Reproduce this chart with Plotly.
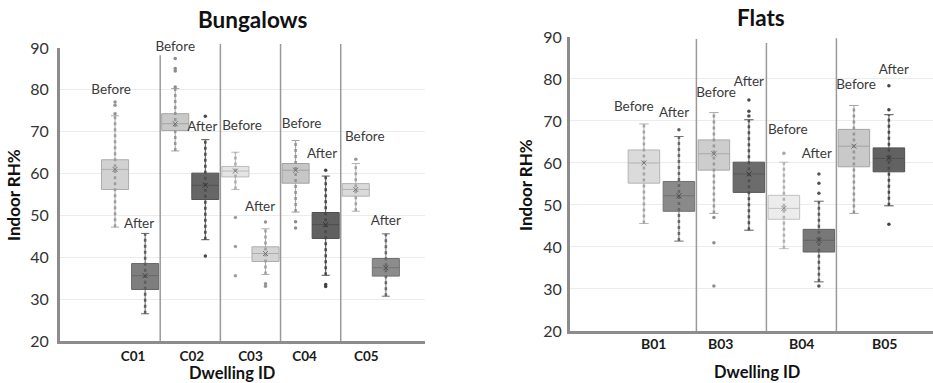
import plotly.graph_objects as go

# ---------------- DATA ----------------
# Bungalows (left panel): boxes ordered C01 Before, C01 After, C02 Before, ...
bung_ids = ["C01", "C02", "C03", "C04", "C05"]
bung_q1 = [56.2, 32.3, 70.3, 53.8, 59.2, 39.0, 57.7, 44.5, 54.6, 35.5]
bung_med = [61.0, 35.6, 71.9, 57.2, 60.6, 40.9, 60.8, 47.8, 56.2, 37.5]
bung_q3 = [63.3, 38.5, 74.3, 60.1, 61.7, 42.5, 62.4, 50.7, 57.6, 39.7]
bung_lo = [47.2, 26.5, 65.4, 44.2, 56.2, 35.9, 50.8, 35.7, 51.0, 30.7]
bung_hi = [73.8, 45.7, 80.3, 68.1, 65.1, 46.8, 67.9, 59.4, 62.4, 45.6]
bung_out = [[77.1, 76.3, 74.3], [], [87.5, 85.1, 84.5, 80.7], [73.7, 40.3],
            [49.5, 42.6, 35.6], [48.4, 33.7, 33.1], [48.5, 47.0], [60.8, 33.5, 33.0],
            [63.4], []]
bung_fill = ["#d2d2d2", "#7e7e7e", "#c9c9c9", "#666666", "#e4e4e4",
             "#d4d4d4", "#c6c6c6", "#616161", "#dadada", "#8c8c8c"]
bung_label_y = [79.9, 47.9, 90.0, 70.9, 71.1, 51.9, 71.6, 64.5, 68.6, 48.5]
bung_label_dx = [-0.13, -0.2, 0.0, -0.1, 0.22, -0.18, 0.2, -0.12, 0.3, 0.0]

# Flats (right panel)
flat_ids = ["B01", "B03", "B04", "B05"]
flat_q1 = [55.2, 48.5, 58.3, 53.0, 46.6, 38.8, 59.1, 57.9]
flat_med = [60.0, 52.2, 62.2, 57.4, 49.2, 41.6, 64.0, 61.1]
flat_q3 = [63.1, 55.6, 65.5, 60.2, 52.3, 44.2, 68.0, 63.6]
flat_lo = [45.6, 41.4, 48.0, 44.0, 39.6, 31.7, 48.0, 49.8]
flat_hi = [69.3, 66.3, 72.0, 70.3, 60.2, 50.9, 73.7, 71.5]
flat_out = [[], [67.9], [47.0, 41.0, 30.7], [75.0, 72.3, 71.2],
            [62.3], [57.4, 55.2, 52.8, 30.7], [], [78.4, 72.7, 45.4]]
flat_fill = ["#dbdbdb", "#8a8a8a", "#cdcdcd", "#6c6c6c",
             "#ececec", "#787878", "#c9c9c9", "#626262"]
flat_label_y = [73.2, 71.7, 76.5, 79.1, 67.6, 61.9, 78.5, 82.0]
flat_label_dx = [-0.29, -0.14, 0.06, 0.0, 0.11, -0.06, 0.06, 0.14]

phases = ["Before", "After"]
y_ticks = [20, 30, 40, 50, 60, 70, 80, 90]

FONT = "Lato"

fig = go.Figure()


def darker(hexc, f=0.8):
    r, g, b = int(hexc[1:3], 16), int(hexc[3:5], 16), int(hexc[5:7], 16)
    return "#%02x%02x%02x" % (int(r * f), int(g * f), int(b * f))


def add_panel(xa, ya, q1, med, q3, lo, hi, outs, fills, label_y, label_dx):
    n = len(q1)
    for k in range(n):
        fc = fills[k]
        lc = darker(fc, 0.82)
        fig.add_trace(go.Box(
            x=[k], q1=[q1[k]], median=[med[k]], q3=[q3[k]],
            lowerfence=[lo[k]], upperfence=[hi[k]],
            width=0.9, whiskerwidth=0.3, fillcolor=fc,
            line=dict(color=lc, width=1), boxpoints=False,
            xaxis=xa, yaxis=ya, showlegend=False, hoverinfo="skip"))
        # dense jittered data column along whisker
        fig.add_trace(go.Scatter(
            x=[k, k], y=[lo[k], hi[k]], mode="lines",
            line=dict(color=darker(fc, 0.75), width=2.5, dash="dot"),
            xaxis=xa, yaxis=ya, showlegend=False, hoverinfo="skip"))
        if outs[k]:
            fig.add_trace(go.Scatter(
                x=[k] * len(outs[k]), y=outs[k], mode="markers",
                marker=dict(color=darker(fc, 0.7), size=3.5),
                xaxis=xa, yaxis=ya, showlegend=False, hoverinfo="skip"))
        fig.add_trace(go.Scatter(
            x=[k], y=[med[k]], mode="markers",
            marker=dict(symbol="x-thin", size=5, line=dict(color=darker(fc, 0.55), width=1)),
            xaxis=xa, yaxis=ya, showlegend=False, hoverinfo="skip"))
    fig.add_trace(go.Scatter(
        x=[k + d for k, d in zip(range(n), label_dx)], y=label_y, mode="text",
        text=[phases[k % 2] for k in range(n)],
        textfont=dict(family=FONT, size=13.5, color="#3a3a3a"),
        cliponaxis=False, xaxis=xa, yaxis=ya, showlegend=False, hoverinfo="skip"))


add_panel("x", "y", bung_q1, bung_med, bung_q3, bung_lo, bung_hi, bung_out, bung_fill,
          bung_label_y, bung_label_dx)
add_panel("x2", "y2", flat_q1, flat_med, flat_q3, flat_lo, flat_hi, flat_out, flat_fill,
          flat_label_y, flat_label_dx)

axis_common = dict(showline=True, linewidth=3, linecolor="#8c8c8c", zeroline=False,
                   automargin=False, ticks="", ticklen=0)

fig.update_layout(
    width=933, height=383, margin=dict(l=0, r=0, t=0, b=0, autoexpand=False),
    paper_bgcolor="white", plot_bgcolor="white",
    xaxis=dict(domain=[0.0643, 0.4555], range=[-1.83, 10.3], showgrid=False,
               tickvals=[0.6, 2.55, 4.5, 6.3, 8.35],
               ticktext=["<b>%s</b>" % s for s in bung_ids],
               tickfont=dict(family=FONT, size=13.5, color="#1a1a1a"),
               ticklabelstandoff=1, **axis_common),
    yaxis=dict(domain=[0.1097, 0.8747], range=[20, 90], tickvals=y_ticks,
               showgrid=True, gridcolor="#ececec", gridwidth=1,
               tickfont=dict(family=FONT, size=16, color="#333333"),
               ticklabelstandoff=5, **axis_common),
    xaxis2=dict(domain=[0.611, 1.0], range=[-2.11, 8.26], showgrid=False, anchor="y2",
                tickvals=[0.26, 2.2, 4.51, 6.86],
                ticktext=[""] * len(flat_ids), **axis_common),
    yaxis2=dict(domain=[0.1358, 0.9034], range=[20, 90], tickvals=y_ticks, anchor="x2",
                showgrid=True, gridcolor="#ececec", gridwidth=1,
                tickfont=dict(family=FONT, size=16, color="#333333"),
                ticklabelstandoff=2, **axis_common),
)

# category labels of the flats panel (placed close under the axis, as in the original)
for pos, name in zip([0.26, 2.2, 4.51, 6.86], flat_ids):
    fig.add_annotation(text="<b>%s</b>" % name, x=pos, xref="x2", y=1 - 343 / 383, yref="paper",
                       showarrow=False, xanchor="center", yanchor="middle",
                       font=dict(family=FONT, size=14, color="#1a1a1a"))

# separators between dwellings
left_tops = [0.856, 0.885, 0.885, 0.885]
for i, top in enumerate(left_tops):
    fig.add_shape(type="line", xref="x", yref="paper", x0=2 * i + 1.5, x1=2 * i + 1.5,
                  y0=0.1097, y1=top, line=dict(color="#9a9a9a", width=1.5))
right_tops = [0.898, 0.888, 0.9]
for i, top in enumerate(right_tops):
    fig.add_shape(type="line", xref="x2", yref="paper", x0=2 * i + 1.5, x1=2 * i + 1.5,
                  y0=0.1358, y1=top, line=dict(color="#9a9a9a", width=1.5))

ann = dict(showarrow=False, xref="paper", yref="paper", xanchor="center", yanchor="middle")
fig.add_annotation(text="<b>Bungalows</b>", x=253 / 933, y=1 - 19 / 383,
                   font=dict(family=FONT, size=22.5, color="#111111"), **ann)
fig.add_annotation(text="<b>Flats</b>", x=761 / 933, y=1 - 17 / 383,
                   font=dict(family=FONT, size=22.5, color="#111111"), **ann)
fig.add_annotation(text="<b>Indoor RH%</b>", x=13 / 933, y=1 - 195 / 383, textangle=-90,
                   font=dict(family=FONT, size=17, color="#111111"), **ann)
fig.add_annotation(text="<b>Indoor RH%</b>", x=525 / 933, y=1 - 185 / 383, textangle=-90,
                   font=dict(family=FONT, size=17, color="#111111"), **ann)
fig.add_annotation(text="<b>Dwelling ID</b>", x=232 / 933, y=1 - 373 / 383,
                   font=dict(family=FONT, size=16.5, color="#111111"), **ann)
fig.add_annotation(text="<b>Dwelling ID</b>", x=757 / 933, y=1 - 372 / 383,
                   font=dict(family=FONT, size=16.5, color="#111111"), **ann)

fig.write_html("out.html", config={"displayModeBar": False},
               post_script="document.body.style.margin='0';")
